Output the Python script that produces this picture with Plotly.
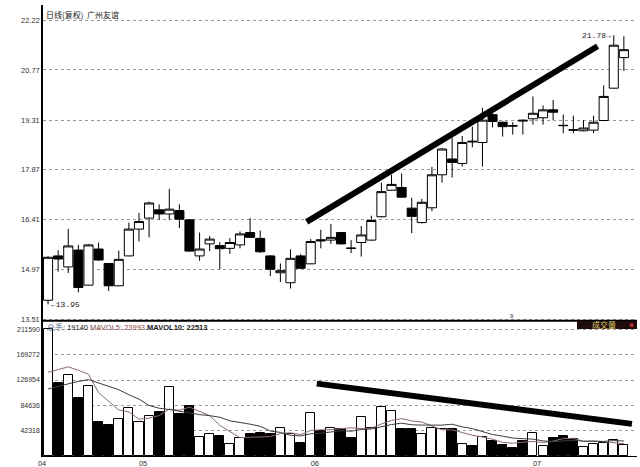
import plotly.graph_objects as go

# 日线(复权) 广州友谊 - daily candles, Apr..Jul
open_px = [14.07, 15.36, 15.04, 15.53, 14.51, 15.56, 15.14, 14.49, 15.36, 16.14,
           16.46, 16.70, 16.58, 16.68, 16.41, 15.36, 15.71, 15.66, 15.58, 15.68,
           16.04, 15.87, 15.36, 14.87, 14.58, 15.36, 15.13, 15.83, 15.82, 16.04,
           15.59, 15.75, 15.82, 16.50, 17.27, 17.35, 16.75, 16.33, 16.76, 17.72,
           18.18, 18.05, 18.70, 18.66, 19.47, 19.25, 19.15, 19.31, 19.35, 19.38,
           19.61, 19.16, 19.03, 19.00, 19.02, 19.30, 20.24, 21.13]
high_px = [15.35, 15.53, 16.15, 15.68, 15.70, 15.75, 15.15, 15.51, 16.33, 16.61,
           16.94, 16.86, 17.31, 16.86, 16.43, 16.04, 15.94, 15.76, 15.88, 16.07,
           16.46, 16.10, 15.38, 15.14, 15.55, 15.41, 15.85, 16.12, 16.29, 16.06,
           15.82, 16.23, 16.53, 17.49, 17.72, 17.76, 17.05, 17.02, 17.95, 18.50,
           18.81, 18.85, 19.12, 19.67, 19.55, 19.27, 19.25, 19.33, 20.00, 19.74,
           19.90, 19.47, 19.44, 19.31, 19.44, 20.32, 21.78, 21.75]
low_px = [13.95, 14.90, 14.86, 14.30, 14.50, 15.22, 14.34, 14.48, 15.35, 15.78,
          15.90, 16.41, 16.41, 16.17, 15.48, 15.22, 15.50, 14.97, 15.42, 15.58,
          15.88, 15.45, 14.77, 14.60, 14.41, 14.98, 15.12, 15.58, 15.71, 15.69,
          15.44, 15.34, 15.80, 16.48, 17.25, 17.05, 16.02, 16.30, 16.66, 17.49,
          17.64, 17.96, 18.52, 17.96, 19.10, 18.83, 18.89, 18.89, 19.18, 19.18,
          19.31, 18.93, 18.93, 18.98, 18.93, 19.28, 20.22, 20.74]
close_px = [15.32, 15.27, 15.65, 14.44, 15.68, 15.24, 14.49, 15.26, 16.14, 16.36,
            16.90, 16.58, 16.72, 16.43, 15.50, 15.56, 15.85, 15.57, 15.75, 16.00,
            15.90, 15.48, 14.97, 14.93, 15.29, 15.00, 15.78, 15.80, 15.90, 15.71,
            15.58, 15.97, 16.39, 17.23, 17.44, 17.07, 16.51, 16.92, 17.72, 18.47,
            18.08, 18.66, 18.68, 19.31, 19.27, 19.12, 19.14, 19.29, 19.51, 19.61,
            19.54, 19.15, 19.02, 19.08, 19.25, 20.00, 21.49, 21.36]

volume = [211590, 121900, 135800, 96700, 117400, 57600, 52000, 61500, 79900, 56500,
          66000, 74300, 114600, 69900, 83900, 32400, 36300, 33500, 20100, 30700,
          36300, 38000, 36300, 46400, 36300, 22400, 71600, 42500, 46500, 45400,
          29700, 64500, 46500, 81800, 75100, 44800, 44800, 37000, 46500, 45400,
          44800, 20200, 16800, 32500, 25800, 18500, 12900, 25800, 39200, 16800,
          29700, 34200, 28000, 14600, 20200, 22400, 26900, 19140]
mavol5 = [139900, 144400, 148900, 143200, 136700, 105900, 91900, 77000, 73700, 61500,
          63200, 67600, 78300, 76300, 81700, 75000, 67400, 51200, 41200, 30600,
          31400, 31700, 32300, 37500, 38700, 35900, 42600, 43800, 43900, 45700,
          47100, 45700, 46500, 53600, 59500, 62500, 58600, 56700, 49600, 43700,
          43700, 38800, 34700, 31900, 28000, 22800, 21300, 23100, 24400, 22600,
          24900, 29100, 29600, 24700, 25300, 23900, 22400, 20600]
mavol10 = [112000, 116400, 120900, 124700, 127600, 122100, 116400, 110800, 102400, 95000,
           84500, 79800, 77700, 75000, 71600, 69100, 67500, 64700, 58800, 56200,
           53200, 49600, 41700, 39400, 34600, 33600, 37200, 38100, 40700, 42200,
           41500, 44200, 45200, 48700, 52600, 54800, 52200, 51600, 51600, 51600,
           53100, 48700, 45700, 40800, 35900, 33200, 30000, 28900, 28200, 25300,
           23800, 25200, 26300, 24600, 24000, 24400, 25800, 25100]

month_labels = ["04", "05", "06", "07"]
month_start = [0, 10, 27, 49]

price_ticks = [13.51, 14.97, 16.41, 17.87, 19.31, 20.77, 22.22]
volume_ticks = [42318, 84636, 126954, 169272, 211590]

# hand drawn trend lines (bar index, value)
price_trend = [(25.6, 16.35), (54.4, 21.46)]
volume_trend = [(26.6, 120900), (57.8, 53700)]

header = dict(last_vol=19140, mavol5=23993, mavol10=22513)

bars = list(range(len(open_px)))
bar_colors = ["white" if c >= o else "black" for o, c in zip(open_px, close_px)]

fig = go.Figure()

fig.add_trace(go.Candlestick(
    x=bars, open=open_px, high=high_px, low=low_px, close=close_px,
    increasing=dict(line=dict(color="black", width=1), fillcolor="white"),
    decreasing=dict(line=dict(color="black", width=1), fillcolor="black"),
    xaxis="x", yaxis="y", hoverinfo="skip",
))

fig.add_trace(go.Bar(
    x=bars, y=volume, width=0.9,
    marker=dict(color=bar_colors, line=dict(color="black", width=1)),
    xaxis="x", yaxis="y2", hoverinfo="skip",
))
fig.add_trace(go.Scatter(x=bars, y=mavol5, mode="lines", hoverinfo="skip",
                         line=dict(color="#8a6c6c", width=1), xaxis="x", yaxis="y2"))
fig.add_trace(go.Scatter(x=bars, y=mavol10, mode="lines", hoverinfo="skip",
                         line=dict(color="#3c3c3c", width=1), xaxis="x", yaxis="y2"))

axis_font = dict(family="Liberation Sans", size=7.5, color="#333333")

fig.update_layout(
    width=640, height=467,
    margin=dict(l=43, r=3, t=5, b=11),
    paper_bgcolor="white", plot_bgcolor="white",
    showlegend=False,
    boxgap=0.1, boxgroupgap=0,
    bargap=0,
    font=axis_font,
    xaxis=dict(
        range=[-0.5, 58.3], anchor="y2", automargin=False,
        showgrid=False, zeroline=False,
        showline=True, linecolor="black", linewidth=1,
        tickvals=month_start, ticktext=month_labels,
        ticks="", ticklabelstandoff=0,
        ticklabelshift=-6, tickfont=axis_font,
        rangeslider=dict(visible=False),
    ),
    yaxis=dict(
        domain=[0.3, 1], range=[13.475, 22.66], automargin=False,
        tickvals=price_ticks, ticktext=[f"{v:.2f}" for v in price_ticks],
        showgrid=True, gridcolor="#9a9a9a", griddash="dot", gridwidth=1,
        showline=True, linecolor="black", linewidth=1.5,
        zeroline=False, ticks="", tickfont=axis_font,
    ),
    yaxis2=dict(
        domain=[0, 0.2993], range=[0, 225500], automargin=False,
        tickvals=volume_ticks, ticktext=[str(v) for v in volume_ticks],
        showgrid=True, gridcolor="#9a9a9a", griddash="dot", gridwidth=1,
        showline=True, linecolor="black", linewidth=1.5,
        zeroline=False, ticks="", tickfont=dict(family="Liberation Sans", size=7, color="#333333"),
    ),
)

# Panel separator + trend lines
shapes = [
    dict(type="line", xref="paper", yref="paper", x0=0, x1=1, y0=0.3, y1=0.3,
         line=dict(color="black", width=2)),
    dict(type="line", xref="x", yref="y",
         x0=price_trend[0][0], y0=price_trend[0][1], x1=price_trend[1][0], y1=price_trend[1][1],
         line=dict(color="black", width=6)),
    dict(type="line", xref="x", yref="y2",
         x0=volume_trend[0][0], y0=volume_trend[0][1], x1=volume_trend[1][0], y1=volume_trend[1][1],
         line=dict(color="black", width=6)),
    # 成交量 tag box
    dict(type="rect", xref="paper", yref="paper", x0=0.899, x1=1.0, y0=0.2816, y1=0.2993,
         fillcolor="#1e0c0c", line=dict(width=0)),
]
fig.update_layout(shapes=shapes)

annotations = [
    dict(text="日线(复权)  广州友谊", xref="paper", yref="paper", x=0, y=1,
         xanchor="left", yanchor="top", xshift=1, yshift=-2, showarrow=False,
         font=dict(family="Noto Sans CJK SC", size=8, color="#1a1a1a")),
    dict(text="←13.95", xref="x", yref="y", x=0, y=min(low_px),
         xanchor="left", yanchor="middle", xshift=1, showarrow=False,
         font=dict(family="Liberation Mono", size=8, color="#1a1a1a")),
    dict(text="21.78→", xref="x", yref="y", x=56, y=max(high_px),
         xanchor="right", yanchor="middle", xshift=-1, showarrow=False,
         font=dict(family="Liberation Mono", size=8, color="#1a1a1a")),
    dict(text=(f"<span style='color:#4a5a7a'>总手</span>: {header['last_vol']} "
               f"<span style='color:#8a4a4a'>MAVOL5: {header['mavol5']}</span> "
               f"<b>MAVOL10: {header['mavol10']}</b>"),
         xref="paper", yref="paper", x=0, y=0.2993, xanchor="left", yanchor="top",
         xshift=1, showarrow=False,
         font=dict(family="Liberation Sans", size=7.5, color="#1a1a1a")),
    dict(text="成交量", xref="paper", yref="paper", x=0.944, y=0.2905,
         xanchor="center", yanchor="middle", showarrow=False,
         font=dict(family="Noto Sans CJK SC", size=8, color="#e0d870")),
    dict(text="▪", xref="paper", yref="paper", x=0.99, y=0.2905,
         xanchor="center", yanchor="middle", showarrow=False,
         font=dict(family="DejaVu Sans", size=7, color="#c03030")),
    dict(text="9", xref="x", yref="paper", x=45.9, y=0.3, xanchor="center", yanchor="bottom",
         showarrow=False, font=dict(family="Liberation Sans", size=6, color="#333333")),
]
fig.update_layout(annotations=annotations)

# the page's default body margin would push the 640x467 figure off the window
fig.write_html("out.html", config={"displayModeBar": False},
               post_script="document.body.style.margin = '0';")
